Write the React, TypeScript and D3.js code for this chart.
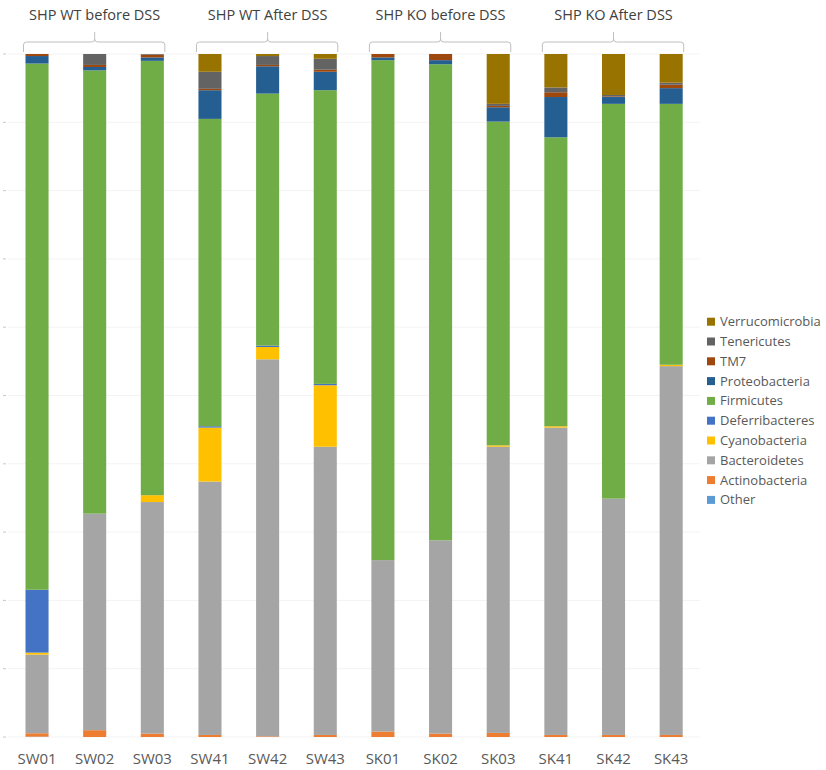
import React from "react";
import * as d3 from "d3";

const samples = ["SW01", "SW02", "SW03", "SW41", "SW42", "SW43", "SK01", "SK02", "SK03", "SK41", "SK42", "SK43"];
const phyla = ["Other", "Actinobacteria", "Bacteroidetes", "Cyanobacteria", "Deferribacteres", "Firmicutes", "Proteobacteria", "TM7", "Tenericutes", "Verrucomicrobia"];
const colors = ["#5B9BD5", "#ED7D31", "#A5A5A5", "#FFC000", "#4472C4", "#70AD47", "#255E91", "#9E480E", "#636363", "#997300"];

// percentages per phylum, in sample order
const other = [0.05, 0, 0, 0, 0, 0, 0, 0, 0, 0, 0, 0];
const actinobacteria = [0.5, 1.0, 0.5, 0.3, 0.1, 0.3, 0.8, 0.5, 0.6, 0.3, 0.3, 0.3];
const bacteroidetes = [11.5, 31.7, 33.9, 37.1, 55.2, 42.2, 25.1, 28.3, 41.9, 45.0, 34.6, 54.0];
const cyanobacteria = [0.3, 0, 1.0, 7.9, 1.8, 9.0, 0, 0, 0.2, 0.2, 0, 0.2];
const deferribacteres = [9.2, 0, 0, 0.2, 0.2, 0.2, 0, 0, 0, 0, 0, 0];
const firmicutes = [77.0, 64.9, 63.6, 45.0, 36.9, 43.0, 73.2, 69.7, 47.4, 42.3, 57.8, 38.2];
const proteobacteria = [1.1, 0.5, 0.5, 4.2, 4.0, 2.7, 0.4, 0.6, 2.1, 5.9, 1.0, 2.3];
const tm7 = [0.3, 0.3, 0.4, 0.2, 0.2, 0.3, 0.5, 0.9, 0.2, 0.7, 0.1, 0.5];
const tenericutes = [0, 1.6, 0.1, 2.5, 1.3, 1.6, 0, 0, 0.3, 0.7, 0.2, 0.3];
const verrucomicrobia = [0, 0, 0, 2.6, 0.3, 0.7, 0, 0, 7.3, 4.9, 6.0, 4.2];

const groups = ["SHP WT before DSS", "SHP WT After DSS", "SHP KO before DSS", "SHP KO After DSS"];
const groupMembers = [
  ["SW01", "SW02", "SW03"],
  ["SW41", "SW42", "SW43"],
  ["SK01", "SK02", "SK03"],
  ["SK41", "SK42", "SK43"],
];
const yTicks = [0, 0.1, 0.2, 0.3, 0.4, 0.5, 0.6, 0.7, 0.8, 0.9, 1.0];

const seriesValues = [other, actinobacteria, bacteroidetes, cyanobacteria, deferribacteres, firmicutes, proteobacteria, tm7, tenericutes, verrucomicrobia];

export default function App() {
  const width = 826;
  const height = 770;
  const font = "'Open Sans', 'Noto Sans', sans-serif";

  const rows = samples.map((s, i) => {
    const r: any = { sample: s };
    phyla.forEach((p, j) => (r[p] = seriesValues[j][i]));
    return r;
  });
  const stack = d3.stack<any>().keys(phyla).offset(d3.stackOffsetExpand);
  const series = stack(rows);

  const x = d3.scaleBand().domain(samples).range([8.2, 700]).paddingInner(0.6).paddingOuter(0.3);
  const y = d3.scaleLinear().domain([0, 1]).range([737, 54]);
  const bw = x.bandwidth();

  const legendItems = phyla.map((p, i) => ({ p, c: colors[i] })).reverse();

  return (
    <svg width={width} height={height} style={{ position: "absolute", left: 0, top: 0, background: "#fff" }}>
      {/* gridlines */}
      {yTicks.map((t) => (
        <g key={t}>
          <line x1={8} x2={700} y1={y(t)} y2={y(t)} stroke="#f3f3f3" strokeWidth={1} />
          <line x1={3} x2={6} y1={y(t)} y2={y(t)} stroke="#c8c8c8" strokeWidth={1} />
        </g>
      ))}
      {/* bars */}
      {series.map((s, i) => (
        <g key={s.key} fill={colors[i]}>
          {s.map((d, j) => {
            const h = y(d[0]) - y(d[1]);
            if (h <= 0) return null;
            return <rect key={j} x={x(samples[j])} y={y(d[1])} width={bw} height={h} />;
          })}
        </g>
      ))}
      {/* x labels */}
      {samples.map((s) => (
        <text key={s} x={(x(s) as number) + bw / 2} y={764} textAnchor="middle" fontFamily={font} fontSize={15} fill="#595959">
          {s}
        </text>
      ))}
      {/* group headers and brackets */}
      {groups.map((g, i) => {
        const m = groupMembers[i];
        const x1 = (x(m[0]) as number) - 2;
        const x2 = (x(m[m.length - 1]) as number) + bw + 1;
        const mid = (x(m[1]) as number) + bw / 2;
        const path = `M${x1},52 V45 Q${x1},42 ${x1 + 3},42 H${mid - 3} Q${mid},42 ${mid},39 V32 M${mid},39 Q${mid},42 ${mid + 3},42 H${x2 - 3} Q${x2},42 ${x2},45 V52`;
        return (
          <g key={g}>
            <text x={mid} y={20} textAnchor="middle" fontFamily={font} fontSize={14.5} fill="#404040">
              {g}
            </text>
            <path d={path} fill="none" stroke="#bfbfbf" strokeWidth={1} />
          </g>
        );
      })}
      {/* legend */}
      {legendItems.map((it, i) => {
        const cy = 321.7 + i * 19.8;
        return (
          <g key={it.p}>
            <rect x={707} y={cy - 4} width={8} height={8} fill={it.c} />
            <text x={720} y={cy + 4.5} fontFamily={font} fontSize={13} fill="#595959">
              {it.p}
            </text>
          </g>
        );
      })}
    </svg>
  );
}
